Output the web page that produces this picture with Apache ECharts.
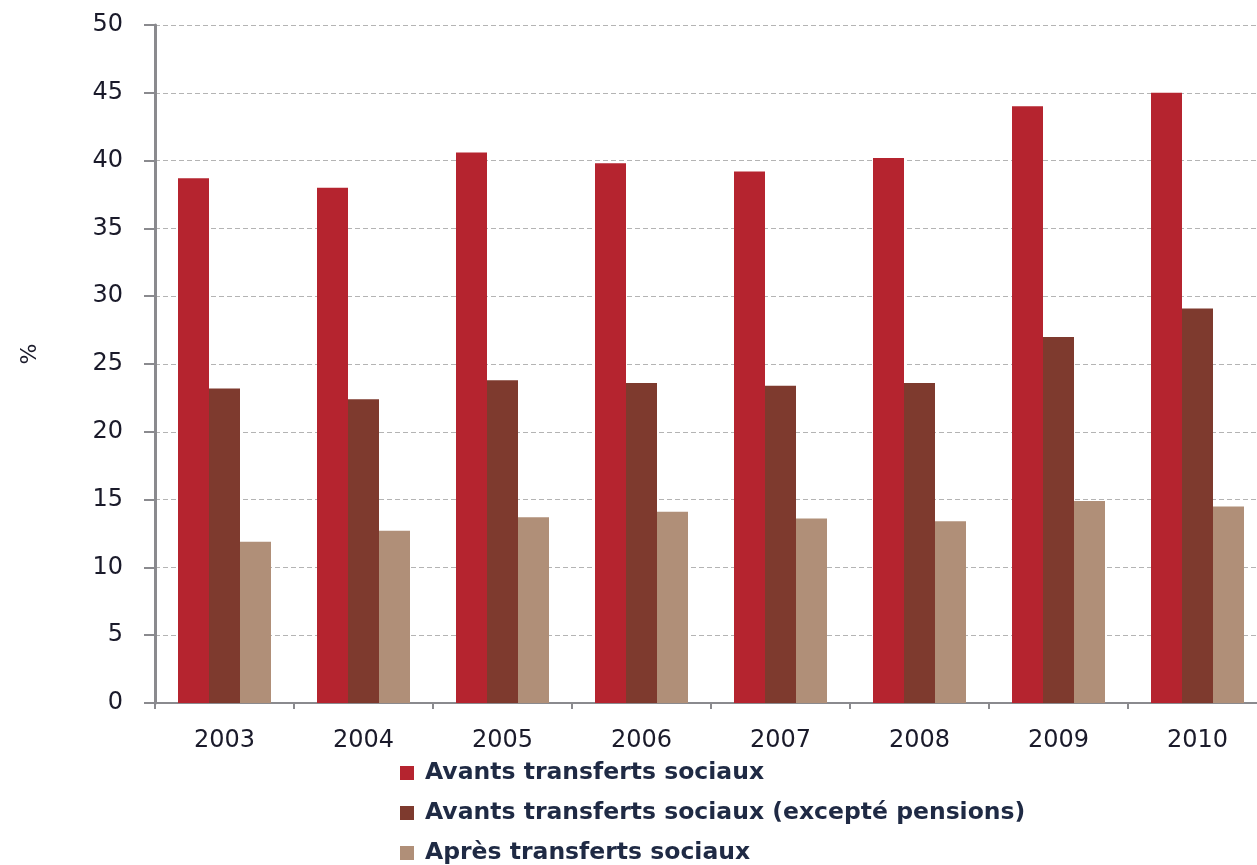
<!DOCTYPE html>
<html>
<head>
<meta charset="utf-8">
<script src="https://cdn.jsdelivr.net/npm/echarts@6/dist/echarts.min.js"></script>
<style>
  html, body { margin: 0; padding: 0; background: #fff; overflow: hidden; }
  #chart { width: 1267px; height: 865px; }
</style>
</head>
<body>
<div id="chart"></div>
<script>
// Taux de risque de pauvreté, 2003-2010 (%)
const years = ['2003', '2004', '2005', '2006', '2007', '2008', '2009', '2010'];
const avantTransferts = [38.7, 38.0, 40.6, 39.8, 39.2, 40.2, 44.0, 45.0];
const avantHorsPensions = [23.2, 22.4, 23.8, 23.6, 23.4, 23.6, 27.0, 29.1];
const apresTransferts = [11.9, 12.7, 13.7, 14.1, 13.6, 13.4, 14.9, 14.5];
const seriesNames = [
  'Avants transferts sociaux',
  'Avants transferts sociaux (excepté pensions)',
  'Après transferts sociaux'
];

const chart = echarts.init(document.getElementById('chart'));
const axisFont = 'DejaVu Sans, sans-serif';

const bar = (name, data, color) => ({
  name,
  type: 'bar',
  data,
  barWidth: 31,
  barGap: '0%',
  itemStyle: { color },
  emphasis: { disabled: true }
});

chart.setOption({
  animation: false,
  grid: { left: 155, top: 25, right: 0, bottom: 162, containLabel: false },
  legend: {
    orient: 'vertical',
    left: 400,
    top: 760,
    height: 200,
    padding: 0,
    itemWidth: 14,
    itemHeight: 14,
    itemGap: 14,
    icon: 'rect',
    selectedMode: false,
    textStyle: {
      fontFamily: 'DejaVu Sans, sans-serif',
      fontWeight: 'bold',
      fontSize: 23.5,
      lineHeight: 26,
      padding: [0, 0, 0, 6],
      color: '#1f2a44'
    },
    data: seriesNames
  },
  xAxis: {
    type: 'category',
    data: years,
    axisLine: { lineStyle: { color: '#8a8a8e', width: 2 } },
    axisTick: { show: true, length: 6, lineStyle: { color: '#8a8a8e', width: 2 } },
    axisLabel: { margin: 26, fontSize: 24, color: '#1a1a2a', fontFamily: axisFont }
  },
  yAxis: {
    type: 'value',
    min: 0,
    max: 50,
    interval: 5,
    name: '%',
    nameLocation: 'middle',
    nameRotate: -90,
    nameGap: 118,
    nameTextStyle: { fontSize: 22, color: '#1a1a2a', fontFamily: axisFont, padding: [0, 20, 0, 0] },
    axisLine: { show: true, lineStyle: { color: '#8a8a8e', width: 3 } },
    axisTick: { show: true, inside: false, length: 11, lineStyle: { color: '#8a8a8e', width: 2 } },
    axisLabel: { margin: 32, fontSize: 24, color: '#1a1a2a', fontFamily: axisFont },
    splitLine: { show: true, lineStyle: { color: '#b4b4b4', type: [5, 3], width: 1.2 } }
  },
  series: [
    bar(seriesNames[0], avantTransferts, '#b5242f'),
    bar(seriesNames[1], avantHorsPensions, '#7e3a2e'),
    bar(seriesNames[2], apresTransferts, '#b08f78')
  ]
});
</script>
</body>
</html>
